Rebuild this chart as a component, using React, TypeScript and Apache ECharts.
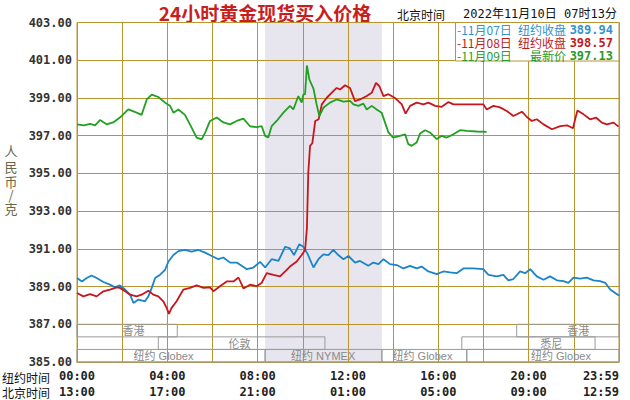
import React, { useEffect, useRef } from 'react';
import * as echarts from 'echarts';

// ---------- data ----------
const seriesDates = ['11月07日', '11月08日', '11月09日'];
const legendLabels = ['纽约收盘', '纽约收盘', '最新价'];
const legendValues = ['389.94', '398.57', '397.13'];

// [hour of New York day, price CNY/g]
const nov07: [number, number][] = [
  [0, 389.45], [0.22, 389.27], [0.43, 389.45], [0.65, 389.59], [0.87, 389.45], [1.17, 389.24], [1.46, 389.1],
  [1.68, 388.96], [1.9, 389.06], [2.13, 388.84], [2.35, 388.57], [2.5, 388.13], [2.72, 388.31], [3.01, 388.22],
  [3.16, 388.48], [3.31, 388.93], [3.46, 389.45], [3.68, 389.63], [3.9, 389.89], [4.05, 390.33], [4.27, 390.67],
  [4.49, 390.88], [4.78, 390.94], [5.08, 390.85], [5.38, 390.94], [5.67, 390.8], [5.97, 390.62], [6.26, 390.45],
  [6.48, 390.54], [6.78, 390.27], [7.07, 390.27], [7.29, 390.1], [7.52, 389.92], [7.81, 390.01], [8.11, 390.31],
  [8.33, 390.01], [8.62, 390.45], [8.92, 390.36], [9.22, 391.11], [9.43, 391.02], [9.61, 390.67], [9.84, 391.24],
  [10.02, 391.11], [10.2, 390.76], [10.47, 390.01], [10.69, 390.45], [10.91, 390.71], [11.13, 390.67],
  [11.35, 390.94], [11.57, 390.67], [11.8, 390.45], [12.02, 390.62], [12.31, 390.27], [12.53, 390.36],
  [12.9, 390.1], [13.12, 390.27], [13.35, 390.19], [13.57, 390.45], [13.86, 390.19], [14.16, 390.14],
  [14.45, 389.96], [14.75, 390.1], [15.04, 389.96], [15.26, 390.06], [15.56, 389.8], [15.93, 389.66],
  [16.22, 389.8], [16.52, 389.75], [16.81, 389.71], [17.11, 389.96], [17.55, 389.96], [17.99, 389.92],
  [18.22, 389.62], [18.59, 389.54], [18.88, 389.62], [19.1, 389.33], [19.32, 389.4], [19.62, 389.8],
  [19.84, 389.71], [20.07, 389.92], [20.36, 389.54], [20.66, 389.36], [20.95, 389.54], [21.25, 389.33],
  [21.54, 389.29], [21.76, 389.2], [21.98, 389.47], [22.28, 389.42], [22.57, 389.47], [22.87, 389.33],
  [23.16, 389.29], [23.39, 389.2], [23.61, 388.84], [23.83, 388.66], [24.0, 388.52],
];

const nov08: [number, number][] = [
  [0, 388.66], [0.28, 388.48], [0.58, 388.6], [0.87, 388.48], [1.17, 388.75], [1.46, 388.84], [1.76, 388.96],
  [1.9, 388.93], [2.13, 388.75], [2.35, 388.57], [2.64, 388.48], [2.86, 388.57], [3.16, 388.78], [3.38, 388.57],
  [3.6, 388.48], [3.82, 388.22], [3.97, 387.87], [4.07, 387.55], [4.19, 387.87], [4.41, 388.22], [4.71, 388.84],
  [5.0, 388.93], [5.3, 389.06], [5.6, 388.93], [5.89, 388.96], [6.04, 388.75], [6.33, 389.02], [6.63, 389.27],
  [6.93, 389.27], [7.15, 389.48], [7.37, 388.9], [7.66, 389.1], [7.96, 389.02], [8.18, 389.2], [8.4, 389.71],
  [8.7, 389.62], [8.99, 389.54], [9.22, 389.8], [9.43, 390.06], [9.73, 390.33], [9.95, 390.67], [10.1, 390.94],
  [10.18, 392.08], [10.24, 395.0], [10.32, 396.46], [10.42, 396.6], [10.55, 397.78], [10.7, 397.87],
  [10.84, 398.66], [11.06, 399.01], [11.35, 399.36], [11.5, 399.53], [11.65, 399.45], [11.87, 399.67],
  [12.09, 399.53], [12.31, 398.83], [12.53, 398.92], [12.83, 399.1], [13.05, 399.27], [13.24, 399.8],
  [13.39, 399.62], [13.57, 399.1], [13.79, 399.2], [14.08, 399.0], [14.38, 398.66], [14.55, 398.17],
  [14.75, 398.58], [15.04, 398.75], [15.34, 398.66], [15.56, 398.75], [15.86, 398.58], [16.15, 398.53],
  [16.45, 398.78], [16.67, 398.66], [16.96, 398.66], [17.55, 398.66], [18.0, 398.66], [18.14, 398.39],
  [18.44, 398.58], [18.73, 398.5], [19.03, 398.31], [19.32, 398.04], [19.7, 398.27], [19.92, 397.99],
  [20.14, 397.78], [20.36, 397.87], [20.66, 397.6], [21.03, 397.34], [21.4, 397.51], [21.7, 397.55],
  [21.96, 397.39], [22.16, 398.34], [22.43, 398.13], [22.72, 397.87], [22.99, 397.95], [23.24, 397.69],
  [23.46, 397.6], [23.76, 397.69], [23.98, 397.48],
];

const nov09: [number, number][] = [
  [0, 397.6], [0.3, 397.55], [0.58, 397.62], [0.8, 397.55], [1.02, 397.83], [1.31, 397.6], [1.6, 397.7],
  [1.9, 397.96], [2.27, 398.39], [2.64, 398.22], [2.86, 398.1], [3.09, 398.92], [3.31, 399.18], [3.6, 399.05],
  [3.9, 398.75], [4.12, 398.58], [4.27, 398.22], [4.49, 398.39], [4.78, 398.1], [5.0, 397.6], [5.3, 396.9],
  [5.52, 396.8], [5.67, 397.15], [5.89, 397.78], [6.19, 397.96], [6.48, 397.7], [6.78, 397.6], [7.07, 397.78],
  [7.37, 397.9], [7.66, 397.5], [7.96, 397.45], [8.18, 397.5], [8.33, 396.99], [8.47, 396.9], [8.62, 397.5],
  [8.84, 397.78], [9.14, 398.22], [9.43, 398.58], [9.58, 398.39], [9.8, 399.1], [9.95, 398.75], [10.02, 399.18],
  [10.1, 399.2], [10.18, 400.72], [10.29, 399.97], [10.47, 399.5], [10.61, 398.66], [10.73, 398.04],
  [10.91, 398.48], [11.2, 398.75], [11.5, 398.92], [11.8, 398.8], [12.09, 398.85], [12.24, 398.66],
  [12.46, 398.58], [12.68, 398.7], [12.83, 398.39], [13.05, 398.58], [13.27, 398.39], [13.49, 398.22],
  [13.64, 397.69], [13.79, 397.17], [14.0, 396.9], [14.3, 396.99], [14.53, 397.07], [14.67, 396.55],
  [14.82, 396.46], [15.04, 396.64], [15.19, 397.11], [15.41, 397.29], [15.63, 397.17], [15.93, 396.82],
  [16.15, 396.99], [16.37, 396.9], [16.67, 397.07], [16.96, 397.29], [17.26, 397.25], [17.7, 397.22],
  [18.14, 397.2],
];

const yMin = 385;
const yMax = 403;
const yStep = 2;
const labelHours = [0, 4, 8, 12, 16, 20, 24];
const nyTimeLabels = ['00:00', '04:00', '08:00', '12:00', '16:00', '20:00', '23:59'];
const bjTimeLabels = ['13:00', '17:00', '21:00', '01:00', '05:00', '09:00', '12:59'];

const nymexShade: [number, number] = [8.33, 13.5];

// market sessions (rows inside the 385-387 band)
const sessionNames = ['香港', '香港', '伦敦', '悉尼', '纽约 Globex', '纽约 NYMEX', '纽约 Globex', '', '纽约 Globex'];
const sessionRows = [0, 0, 1, 1, 2, 2, 2, 2, 2];
const sessionStart = [0, 19.47, 3.6, 17.04, 0, 8.33, 13.5, 17.26, 18.0];
const sessionEnd = [4.44, 24, 10.98, 22.94, 8.33, 13.5, 17.26, 18.0, 24];
const sessionLabelAt = [2.5, 22.2, 7.2, 21.0, 3.83, 10.9, 15.3, 17.6, 21.43];
const bandTop = 387;
const bandBottom = 385;

const titleText = '24小时黄金现货买入价格';
const headerLabel = '北京时间';
const headerTime = '2022年11月10日 07时13分';
const yNameChars = ['人', '民', '币', '/', '克'];
const xRowNames = ['纽约时间', '北京时间'];

// ---------- styles ----------
const lineColors = ['#1a84c9', '#c8161e', '#22a022'];
const legendColors = ['#3592cc', '#c01c1c', '#2a9a2a'];
const gold = '#b99430';
const mono = "'DejaVu Sans Mono', 'Noto Sans CJK SC', monospace";
const cjk = "'Noto Sans CJK SC', 'DejaVu Sans', sans-serif";
const yNameCenters = [150, 166, 181, 194.5, 208.5];

export default function App() {
  const ref = useRef<HTMLDivElement>(null);

  useEffect(() => {
    if (!ref.current) return;
    const chart = echarts.init(ref.current, undefined, { renderer: 'svg' });
    const rowH = (bandTop - bandBottom) / 3;

    const sessionData = sessionNames.map((_, i) => {
      const top = bandTop - sessionRows[i] * rowH;
      return [sessionStart[i], sessionEnd[i], top, top - rowH, sessionLabelAt[i]];
    });

    const legendGraphics: any[] = [
      {
        type: 'rect',
        shape: { x: 455.5, y: 22.5, width: 163.5, height: 38.5 },
        style: { fill: '#ffffff', stroke: gold, lineWidth: 1 },
        z: 100,
      },
    ];
    seriesDates.forEach((d, i) => {
      const y = 29.5 + i * 13.2;
      legendGraphics.push(
        {
          type: 'text', z: 101,
          style: { text: '-' + d, x: 457, y, align: 'left', verticalAlign: 'middle', fill: legendColors[i], fontSize: 12, fontFamily: cjk },
        },
        {
          type: 'text', z: 101,
          style: { text: legendLabels[i], x: 566, y, align: 'right', verticalAlign: 'middle', fill: legendColors[i], fontSize: 12, fontFamily: cjk },
        },
        {
          type: 'text', z: 101,
          style: { text: legendValues[i], x: 613, y, align: 'right', verticalAlign: 'middle', fill: legendColors[i], fontSize: 12, fontWeight: 'bold', fontFamily: mono },
        }
      );
    });

    const yNameGraphics = yNameChars.map((c, i) => ({
      type: 'text',
      style: { text: c, x: 11, y: yNameCenters[i], align: 'center', verticalAlign: 'middle', fill: '#6b6646', fontSize: 13, fontFamily: cjk },
    }));

    const option: any = {
      animation: false,
      backgroundColor: '#ffffff',
      grid: { left: 77, right: 11, top: 22.5, bottom: 36, show: true, borderColor: gold, borderWidth: 1, backgroundColor: 'transparent' },
      xAxis: {
        type: 'value',
        min: 0,
        max: 24,
        interval: 2,
        axisLine: { show: true, lineStyle: { color: gold, width: 1 } },
        axisTick: { show: false },
        splitLine: { show: true, lineStyle: { color: gold, width: 1 } },
        axisLabel: {
          showMaxLabel: true,
          showMinLabel: true,
          alignMaxLabel: 'right',
          margin: 6,
          lineHeight: 16,
          color: '#222',
          fontSize: 12,
          fontWeight: 'bold',
          fontFamily: mono,
          formatter: (v: number) => {
            const idx = labelHours.indexOf(v);
            return idx >= 0 ? nyTimeLabels[idx] + '\n' + bjTimeLabels[idx] : '';
          },
        },
      },
      yAxis: {
        type: 'value',
        min: yMin,
        max: yMax,
        interval: yStep,
        axisLine: { show: true, lineStyle: { color: gold, width: 1 } },
        axisTick: { show: false },
        splitLine: { show: true, lineStyle: { color: gold, width: 1 } },
        axisLabel: {
          margin: 5,
          color: '#333',
          fontSize: 12,
          fontWeight: 'bold',
          fontFamily: mono,
          formatter: (v: number) => v.toFixed(2),
        },
      },
      series: [
        {
          type: 'custom',
          z: -1,
          silent: true,
          data: [[nymexShade[0], nymexShade[1], yMax, yMin]],
          encode: { x: [0, 1], y: [2, 3] },
          renderItem: (params: any, api: any) => {
            const p1 = api.coord([api.value(0), api.value(2)]);
            const p2 = api.coord([api.value(1), api.value(3)]);
            return {
              type: 'rect',
              shape: { x: p1[0], y: p1[1], width: p2[0] - p1[0], height: p2[1] - p1[1] },
              style: { fill: '#e7e5ed' },
            };
          },
        },
        ...[nov07, nov08, nov09].map((d, i) => ({
          type: 'line',
          name: seriesDates[i],
          data: d,
          showSymbol: false,
          symbol: 'none',
          z: 3 + i,
          lineStyle: { color: lineColors[i], width: 1.8 },
          itemStyle: { color: lineColors[i] },
        })),
        {
          type: 'custom',
          z: 8,
          silent: true,
          data: sessionData,
          encode: { x: [0, 1], y: [2, 3] },
          renderItem: (params: any, api: any) => {
            const p1 = api.coord([api.value(0), api.value(2)]);
            const p2 = api.coord([api.value(1), api.value(3)]);
            const pl = api.coord([api.value(4), (api.value(2) + api.value(3)) / 2]);
            const name = sessionNames[params.dataIndex];
            return {
              type: 'group',
              children: [
                {
                  type: 'rect',
                  shape: { x: p1[0], y: p1[1], width: p2[0] - p1[0], height: p2[1] - p1[1] },
                  style: { fill: 'none', stroke: '#9a9a9a', lineWidth: 1 },
                },
                {
                  type: 'text',
                  style: {
                    text: name, x: pl[0], y: pl[1] + 0.5, align: 'center', verticalAlign: 'middle',
                    fill: '#8a8a8a', fontSize: 11, fontFamily: "'Liberation Sans', 'Noto Sans CJK SC', sans-serif",
                  },
                },
              ],
            };
          },
        },
      ],
      graphic: [
        {
          type: 'text',
          style: { text: titleText, x: 265, y: 12, align: 'center', verticalAlign: 'middle', fill: '#c81e1e', fontSize: 19, fontWeight: 'bold', fontFamily: cjk },
        },
        {
          type: 'text',
          style: { text: headerLabel, x: 397, y: 14, align: 'left', verticalAlign: 'middle', fill: '#111', fontSize: 12, fontFamily: cjk },
        },
        {
          type: 'text',
          style: { text: headerTime, x: 463, y: 14, align: 'left', verticalAlign: 'middle', fill: '#111', fontSize: 12, fontFamily: mono },
        },
        ...yNameGraphics,
        {
          type: 'text',
          style: { text: xRowNames[0], x: 2, y: 377, align: 'left', verticalAlign: 'middle', fill: '#111', fontSize: 12, fontFamily: cjk },
        },
        {
          type: 'text',
          style: { text: xRowNames[1], x: 2, y: 392, align: 'left', verticalAlign: 'middle', fill: '#111', fontSize: 12, fontFamily: cjk },
        },
        ...legendGraphics,
      ],
    };

    chart.setOption(option);
    return () => chart.dispose();
  }, []);

  return <div ref={ref} style={{ position: 'absolute', left: 0, top: 0, width: 630, height: 400 }} />;
}
